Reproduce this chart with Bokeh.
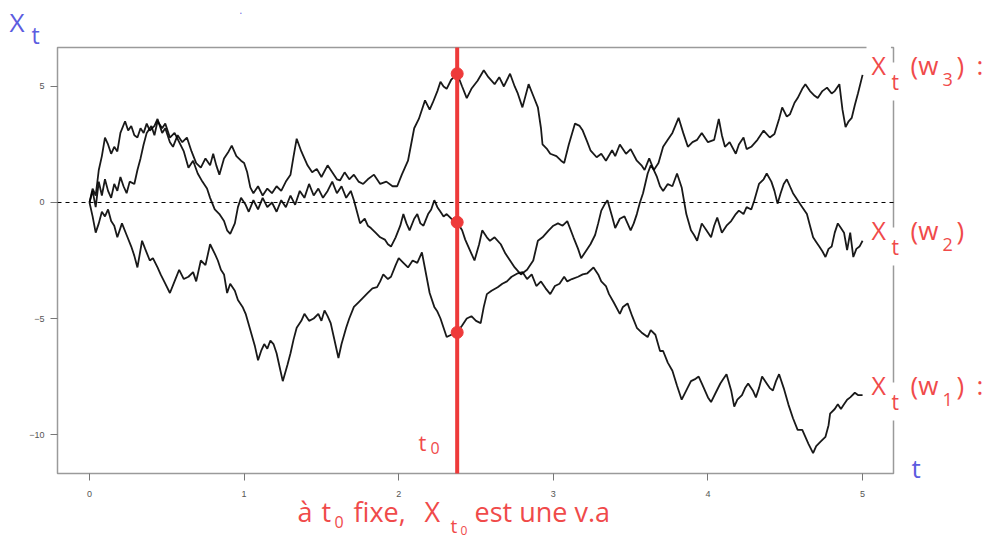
from bokeh.plotting import figure
from bokeh.models import Range1d, Label, FixedTicker
from bokeh.embed import file_html
from bokeh.resources import INLINE

# ---------------- data ----------------
t0 = 2.378

t_w3 = [0.00,0.02,0.04,0.06,0.08,0.10,0.12,0.14,0.16,0.18,
        0.20,0.23,0.25,0.27,0.29,0.31,0.33,0.35,0.37,0.39,
        0.42,0.44,0.47,0.49,0.52,0.54,0.57,0.60,0.63,0.66,
        0.69,0.72,0.75,0.78,0.80,0.82,0.84,0.87,0.90,0.92,
        0.95,0.98,1.00,1.02,1.04,1.06,1.09,1.12,1.15,1.18,
        1.21,1.24,1.27,1.30,1.32,1.34,1.37,1.39,1.41,1.44,
        1.47,1.50,1.54,1.57,1.60,1.62,1.65,1.68,1.71,1.74,
        1.77,1.80,1.84,1.88,1.92,1.96,1.99,2.02,2.06,2.08,
        2.10,2.13,2.15,2.17,2.20,2.22,2.25,2.27,2.29,2.31,
        2.34,2.378,
        2.41,2.44,2.47,2.51,2.55,2.58,2.62,2.65,2.68,2.72,
        2.75,2.77,2.80,2.84,2.87,2.90,2.92,2.93,2.96,2.98,
        3.02,3.05,3.07,3.10,3.14,3.17,3.19,3.22,3.24,3.28,
        3.31,3.34,3.38,3.40,3.43,3.47,3.50,3.54,3.57,3.59,
        3.62,3.65,3.68,3.71,3.74,3.77,3.81,3.84,3.87,3.90,
        3.93,3.96,4.00,4.04,4.07,4.09,4.11,4.14,4.18,4.20,
        4.23,4.25,4.28,4.32,4.36,4.40,4.43,4.46,4.48,4.51,
        4.53,4.56,4.58,4.61,4.63,4.66,4.69,4.71,4.74,4.77,
        4.80,4.82,4.85,4.87,4.89,4.91,4.93,4.95,4.97,5.00]
x_w3 = [0.0,0.6,0.3,1.4,2.0,2.8,2.5,2.1,2.4,2.2,
        3.0,3.5,3.1,3.3,2.9,2.8,3.2,3.0,3.4,3.1,
        3.3,3.6,3.0,3.2,2.6,2.4,2.9,2.6,2.8,2.2,
        1.7,1.5,1.9,1.6,2.1,1.6,1.2,1.9,2.2,2.45,
        2.0,1.8,1.7,1.3,0.65,0.4,0.7,0.3,0.6,0.4,
        0.7,0.5,0.9,1.2,2.0,2.75,2.2,1.9,1.6,1.3,
        1.45,1.1,1.6,1.3,1.0,0.95,1.3,1.0,1.2,0.9,
        0.8,1.0,1.2,0.8,0.9,0.7,0.7,1.2,1.8,2.5,
        3.2,3.6,4.0,4.4,4.0,4.3,4.8,5.2,5.0,4.9,
        5.3,5.55,
        5.0,4.5,4.9,5.25,5.7,5.4,5.1,5.4,5.0,5.55,
        5.0,4.7,4.1,5.1,4.6,4.1,3.2,2.5,2.3,2.1,
        2.0,1.8,1.7,2.5,3.4,3.3,3.1,2.6,2.25,1.95,
        2.1,1.8,2.25,2.0,2.5,2.1,2.3,1.8,1.6,1.4,
        1.9,1.4,1.7,2.4,2.7,3.0,3.65,3.0,2.4,2.6,
        2.7,3.0,2.6,2.7,3.6,2.9,2.4,2.6,2.1,2.5,
        2.8,2.3,2.4,2.7,3.1,2.8,2.95,3.6,4.1,3.7,
        3.8,4.3,4.5,4.9,5.1,4.8,4.6,4.5,4.8,4.95,
        4.7,4.8,5.1,4.0,3.25,3.5,3.65,4.2,4.7,5.5]

t_w2 = [0.00,0.02,0.04,0.06,0.08,0.10,0.12,0.14,0.16,0.18,
        0.20,0.22,0.24,0.26,0.29,0.31,0.33,0.35,0.37,0.40,
        0.42,0.44,0.47,0.49,0.52,0.55,0.58,0.61,0.64,0.67,
        0.70,0.73,0.76,0.78,0.81,0.84,0.87,0.89,0.91,0.94,
        0.96,0.98,1.01,1.03,1.06,1.09,1.12,1.15,1.18,1.21,
        1.24,1.27,1.30,1.33,1.36,1.39,1.42,1.45,1.48,1.51,
        1.54,1.57,1.60,1.63,1.66,1.69,1.71,1.73,1.75,1.78,
        1.80,1.82,1.85,1.88,1.91,1.93,1.95,1.98,2.01,2.03,
        2.05,2.07,2.10,2.12,2.14,2.16,2.19,2.21,2.23,2.25,
        2.27,2.29,2.31,2.34,2.378,
        2.41,2.43,2.45,2.47,2.49,2.52,2.54,2.57,2.59,2.62,
        2.66,2.69,2.72,2.75,2.79,2.83,2.87,2.90,2.93,2.97,
        3.00,3.03,3.06,3.09,3.13,3.16,3.18,3.21,3.24,3.27,
        3.29,3.31,3.33,3.35,3.38,3.40,3.43,3.46,3.48,3.50,
        3.52,3.54,3.56,3.58,3.61,3.63,3.65,3.67,3.69,3.71,
        3.74,3.77,3.80,3.83,3.86,3.89,3.91,3.93,3.96,3.99,
        4.02,4.04,4.06,4.09,4.12,4.15,4.18,4.20,4.23,4.25,
        4.28,4.30,4.33,4.36,4.38,4.41,4.43,4.45,4.47,4.49,
        4.51,4.53,4.55,4.58,4.61,4.64,4.66,4.68,4.70,4.72,
        4.74,4.76,4.78,4.80,4.82,4.84,4.86,4.88,4.90,4.92,
        4.94,4.96,4.98,5.00]
x_w2 = [0.0,0.5,-0.2,0.9,0.3,1.0,0.5,0.2,0.8,0.5,
        1.1,0.7,0.4,0.9,0.8,1.4,1.9,2.5,3.0,3.3,
        2.9,3.5,3.2,3.4,2.8,3.0,2.6,2.2,1.5,1.8,
        1.25,0.9,0.6,0.2,-0.3,-0.5,-0.8,-1.2,-1.35,-0.9,
        -0.2,0.2,-0.1,-0.4,0.1,-0.3,0.2,-0.2,0.0,-0.4,
        0.1,-0.2,0.3,-0.1,0.5,0.2,0.8,0.3,0.6,0.2,
        0.5,0.9,0.4,0.7,0.2,0.5,0.1,-0.4,-0.9,-0.7,
        -1.0,-1.1,-1.3,-1.5,-1.6,-1.8,-1.9,-1.5,-1.0,-0.5,
        -0.9,-1.2,-0.7,-0.5,-0.9,-1.0,-0.5,-0.3,0.1,-0.2,
        -0.4,-0.6,-0.5,-0.7,-0.85,
        -1.2,-1.6,-1.9,-2.2,-2.5,-1.8,-1.2,-1.5,-1.65,-1.5,
        -1.8,-2.2,-2.5,-2.8,-3.1,-2.9,-2.5,-1.65,-1.5,-1.2,
        -1.0,-0.9,-1.0,-0.8,-1.5,-2.0,-2.4,-2.1,-1.8,-1.4,
        -0.9,-0.35,-0.1,0.1,-0.6,-1.1,-0.7,-0.6,-0.9,-1.2,
        -0.9,-0.5,0.0,0.4,1.25,1.6,1.4,1.1,0.7,0.5,
        0.8,0.7,1.25,0.65,-0.5,-1.2,-1.4,-1.65,-0.9,-1.2,
        -1.5,-1.0,-0.65,-1.3,-1.0,-0.8,-0.5,-0.35,-0.5,-0.2,
        -0.3,0.1,0.8,1.0,1.25,0.9,0.5,-0.05,0.4,0.8,
        1.0,0.7,0.4,0.1,-0.2,-0.5,-1.0,-1.5,-1.7,-1.9,
        -2.1,-2.35,-2.0,-1.9,-1.3,-0.9,-1.1,-1.3,-2.05,-1.3,
        -2.35,-2.0,-1.9,-1.65]

t_w1 = [0.00,0.02,0.04,0.06,0.08,0.10,0.12,0.14,0.16,0.18,
        0.21,0.24,0.27,0.29,0.31,0.34,0.36,0.39,0.41,0.44,
        0.46,0.49,0.52,0.55,0.58,0.61,0.64,0.67,0.69,0.72,
        0.75,0.78,0.81,0.83,0.85,0.87,0.89,0.91,0.94,0.96,
        0.99,1.01,1.04,1.07,1.09,1.11,1.13,1.15,1.17,1.19,
        1.21,1.23,1.25,1.28,1.30,1.32,1.34,1.37,1.39,1.42,
        1.45,1.48,1.50,1.52,1.54,1.56,1.58,1.61,1.63,1.66,
        1.68,1.71,1.74,1.77,1.80,1.83,1.86,1.88,1.90,1.93,
        1.95,1.98,2.00,2.03,2.06,2.09,2.12,2.15,2.18,2.20,
        2.23,2.25,2.27,2.29,2.31,2.34,2.378,
        2.41,2.44,2.47,2.50,2.53,2.55,2.57,2.60,2.64,2.67,
        2.70,2.73,2.77,2.80,2.83,2.86,2.89,2.92,2.95,2.98,
        3.01,3.04,3.07,3.09,3.12,3.16,3.19,3.22,3.26,3.29,
        3.31,3.34,3.36,3.39,3.43,3.45,3.48,3.51,3.54,3.57,
        3.61,3.63,3.66,3.69,3.71,3.74,3.77,3.80,3.83,3.86,
        3.89,3.92,3.94,3.96,3.98,4.00,4.02,4.05,4.08,4.10,
        4.12,4.15,4.17,4.19,4.22,4.24,4.26,4.29,4.31,4.33,
        4.35,4.38,4.40,4.42,4.44,4.46,4.49,4.52,4.55,4.58,
        4.61,4.63,4.65,4.68,4.70,4.73,4.76,4.78,4.79,4.82,
        4.84,4.86,4.88,4.90,4.92,4.95,4.97,5.00]
x_w1 = [0.0,-0.6,-1.3,-0.9,-0.4,-0.6,-0.3,-0.8,-1.0,-1.5,
        -0.9,-1.4,-1.9,-2.3,-2.8,-1.65,-2.0,-2.5,-2.4,-2.8,
        -3.1,-3.5,-3.9,-3.4,-2.9,-3.3,-3.2,-3.0,-3.4,-2.5,
        -2.7,-1.8,-2.2,-2.5,-2.9,-3.1,-3.9,-3.5,-3.8,-4.2,
        -4.5,-4.8,-5.5,-6.2,-6.8,-6.4,-6.1,-6.3,-5.95,-6.1,
        -6.5,-7.1,-7.7,-7.0,-6.5,-5.9,-5.4,-5.1,-4.8,-5.1,
        -5.0,-4.8,-5.1,-4.65,-4.9,-5.2,-5.8,-6.7,-6.1,-5.4,
        -5.0,-4.5,-4.3,-4.1,-3.9,-3.7,-3.65,-3.4,-3.1,-3.3,
        -3.2,-2.7,-2.4,-2.6,-2.8,-2.5,-2.6,-2.15,-3.2,-3.9,
        -4.5,-4.7,-5.0,-5.4,-5.8,-5.7,-5.6,
        -5.3,-5.0,-4.9,-5.1,-5.2,-4.5,-3.95,-3.8,-3.65,-3.5,
        -3.4,-3.2,-3.05,-3.0,-3.3,-3.1,-3.6,-3.4,-3.7,-3.95,
        -3.6,-3.5,-3.2,-3.4,-3.3,-3.2,-3.1,-3.05,-2.8,-3.1,
        -3.4,-3.6,-3.95,-4.3,-4.8,-4.5,-4.35,-4.9,-5.4,-5.6,
        -5.8,-5.5,-5.7,-6.4,-6.4,-6.9,-7.25,-7.9,-8.5,-8.1,
        -7.7,-7.6,-7.5,-7.8,-8.1,-8.4,-8.6,-8.2,-7.8,-7.6,
        -7.4,-8.1,-8.8,-8.5,-8.3,-8.0,-7.8,-8.1,-8.4,-8.0,
        -7.5,-7.8,-8.0,-8.1,-7.7,-7.4,-8.0,-8.7,-9.3,-9.8,
        -9.8,-10.1,-10.4,-10.8,-10.5,-10.3,-10.1,-9.6,-9.1,-8.9,
        -8.7,-8.9,-8.7,-8.5,-8.4,-8.2,-8.3,-8.3]

x_ticks = [0, 1, 2, 3, 4, 5]
y_ticks = [-10, -5, 0, 5]

# ---------------- layout helpers ----------------
X0, X1 = -0.207, 5.20          # data extent of the drawn box
Y0, Y1 = -11.68, 6.68
FL, FR, FT, FB = 57, 893, 47, 473   # box edges in page pixels
OFF = 0                         # the page places the canvas at its top-left corner
W, H = 985, 545
TXT_DY = 11                     # baseline correction for labels (px)
PAD = 5

def fx(px):
    return X0 + (px - FL) / (FR - FL) * (X1 - X0)

def fy(py):
    return Y1 - (py - FT) / (FB - FT) * (Y1 - Y0)

RED = "#EE3A3A"
RED_TXT = "#F04A4A"
BLUE = "#5C5CE0"
GRAY = "#9a9a9a"
FONT = "Open Sans"

# frame covers the whole canvas so that texts outside the box are not clipped
p = figure(width=W, height=H,
           x_range=Range1d(fx(OFF), fx(OFF + W)), y_range=Range1d(fy(OFF + H), fy(OFF)),
           output_backend="svg", toolbar_location=None,
           min_border_left=0, min_border_right=0, min_border_top=0, min_border_bottom=0)
p.grid.visible = False
p.outline_line_color = None
p.background_fill_color = "white"
p.border_fill_color = "white"

p.xaxis.fixed_location = Y0
p.yaxis.fixed_location = X0
for ax in (p.xaxis[0], p.yaxis[0]):
    ax.axis_line_color = None
    ax.major_tick_line_color = "#777777"
    ax.major_tick_out = 7
    ax.major_tick_in = 0
    ax.minor_tick_line_color = None
    ax.major_label_text_font = "Liberation Sans"
    ax.major_label_text_font_size = "9px"
    ax.major_label_text_color = "#555555"
p.xaxis.ticker = FixedTicker(ticks=x_ticks)
p.yaxis.ticker = FixedTicker(ticks=y_ticks)
p.xaxis.major_label_standoff = 10
p.yaxis.major_label_standoff = 6

# box around the plotting area
p.quad(left=X0, right=X1, bottom=Y0, top=Y1, fill_color=None,
       line_color=GRAY, line_width=1.5)

# dashed zero line
p.segment(x0=X0, y0=0, x1=X1, y1=0, line_color="black", line_width=1, line_dash="4 4")

# paths
for tt, xx in ((t_w1, x_w1), (t_w2, x_w2), (t_w3, x_w3)):
    p.line(tt, xx, line_color="black", line_width=1.8, line_alpha=0.9)

# vertical red line at t0
p.segment(x0=t0, y0=Y0, x1=t0, y1=Y1, line_color=RED, line_width=4)

# red dots: values of each path at t0
dots_y = [x_w3[t_w3.index(t0)], x_w2[t_w2.index(t0)], x_w1[t_w1.index(t0)]]
p.scatter([t0] * 3, dots_y, size=12, color=RED, marker="circle")

def lab(text, px, py, size, color, font=FONT, bg=False):
    if bg:
        px -= PAD
    kw = dict(x=fx(px), y=fy(py - TXT_DY), text=text, text_font=font,
              text_font_size=f"{size}px", text_color=color,
              text_baseline="alphabetic", text_align="left")
    if bg:
        kw.update(background_fill_color="white", padding=PAD)
    p.add_layout(Label(**kw))

# right-hand labels X_t(w_i)
for digit, base, colon in (("3", 75, True), ("2", 240, False), ("1", 395, True)):
    lab("X", 871, base, 25, RED_TXT, bg=True)
    lab("t", 891, base + 17, 21, RED_TXT, bg=True)
    lab("(w", 910, base, 26, RED_TXT)
    lab(digit, 942, base + 15, 18, RED_TXT)
    lab(")", 956, base, 26, RED_TXT)
    if colon:
        lab(":", 976, base, 26, RED_TXT)

# t0 near the red line
lab("t", 418, 452, 22, RED_TXT)
lab("0", 430, 458, 16, RED_TXT)

# bottom caption
lab("à", 297, 522, 27, RED_TXT)
lab("t", 321, 522, 27, RED_TXT)
lab("0", 334, 532, 16, RED_TXT)
lab("fixe,", 353, 522, 27, RED_TXT)
lab("X", 424, 522, 27, RED_TXT)
lab("t", 450, 536, 19, RED_TXT)
lab("0", 460, 541, 12, RED_TXT)
lab("est une v.a", 474, 522, 27, RED_TXT)

# axis names in blue
lab("X", 9, 32, 26, BLUE)
lab("t", 31, 45, 23, BLUE)
lab("t", 911, 478, 26, BLUE)
lab(".", 239, 20, 10, BLUE)

open("out.html", "w").write(file_html(p, INLINE))
